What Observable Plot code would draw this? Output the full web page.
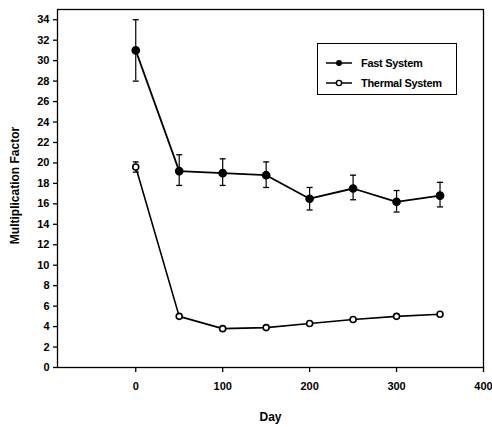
<!DOCTYPE html>
<html>
<head>
<meta charset="utf-8">
<script src="https://cdn.jsdelivr.net/npm/d3@7"></script>
<script src="https://cdn.jsdelivr.net/npm/@observablehq/plot@0.6"></script>
<style>
  html, body { margin: 0; padding: 0; background: #fff; }
  #wrap { position: relative; width: 492px; height: 427px; font-family: "Liberation Sans", Arial, sans-serif; }
  #legend { position: absolute; left: 317px; top: 43px; width: 140px; height: 52px; border: 1.3px solid #000; background: #fff; box-sizing: border-box; }
  .item { position: absolute; left: 7px; height: 14px; display: flex; align-items: center; font-size: 11px; font-weight: bold; letter-spacing: -0.3px; color: #000; }
  .item svg { margin-right: 8px; }
</style>
</head>
<body>
<div id="wrap"></div>
<script>
const days = [0, 50, 100, 150, 200, 250, 300, 350];
const fastValues = [31.0, 19.2, 19.0, 18.8, 16.5, 17.5, 16.2, 16.8];
const fastErrLow = [28.0, 17.8, 17.8, 17.6, 15.4, 16.4, 15.2, 15.7];
const fastErrHigh = [34.0, 20.8, 20.4, 20.1, 17.6, 18.8, 17.3, 18.1];
const thermalValues = [19.6, 5.0, 3.8, 3.9, 4.3, 4.7, 5.0, 5.2];
const thermalErrLow = [19.1, 5.0, 3.8, 3.9, 4.3, 4.7, 5.0, 5.2];
const thermalErrHigh = [20.1, 5.0, 3.8, 3.9, 4.3, 4.7, 5.0, 5.2];
const yTicks = [0, 2, 4, 6, 8, 10, 12, 14, 16, 18, 20, 22, 24, 26, 28, 30, 32, 34];
const xTicks = [0, 100, 200, 300, 400];
const seriesNames = ["Fast System", "Thermal System"];

const fast = days.map((d, i) => ({day: d, v: fastValues[i], lo: fastErrLow[i], hi: fastErrHigh[i]}));
const thermal = days.map((d, i) => ({day: d, v: thermalValues[i], lo: thermalErrLow[i], hi: thermalErrHigh[i]}));
const bars = fast.concat(thermal.filter(d => d.hi > d.lo));
const caps = bars.flatMap(d => [{day: d.day, y: d.lo}, {day: d.day, y: d.hi}]);

const capSymbol = {
  draw(context, size) {
    const r = Math.sqrt(size / Math.PI);
    context.moveTo(-r, 0);
    context.lineTo(r, 0);
  }
};

const chart = Plot.plot({
  width: 492,
  height: 427,
  marginLeft: 57,
  marginRight: 9,
  marginTop: 9,
  marginBottom: 60,
  style: {fontFamily: "Liberation Sans, Arial, sans-serif", fontWeight: "bold", fontSize: "11px", color: "#000", background: "#fff"},
  x: {domain: [-90, 400]},
  y: {domain: [0, 35]},
  marks: [
    Plot.frame({stroke: "#000", strokeWidth: 1.3}),
    Plot.axisY({ticks: yTicks, tickSize: 4, tickPadding: 4, label: null, strokeWidth: 1.3, style: {letterSpacing: "-0.6px"}}),
    Plot.axisX({ticks: xTicks, tickSize: 5, tickPadding: 10, label: null, strokeWidth: 1.3, style: {letterSpacing: "-0.6px"}}),
    Plot.ruleX(bars, {x: "day", y1: "lo", y2: "hi", stroke: "#000", strokeWidth: 1.2}),
    Plot.dot(caps, {x: "day", y: "y", r: 3, symbol: capSymbol, stroke: "#000", strokeWidth: 1.3}),
    Plot.line(fast, {x: "day", y: "v", stroke: "#000", strokeWidth: 1.8}),
    Plot.line(thermal, {x: "day", y: "v", stroke: "#000", strokeWidth: 1.6}),
    Plot.dot(fast, {x: "day", y: "v", r: 3.6, fill: "#000", stroke: "#000"}),
    Plot.dot(thermal, {x: "day", y: "v", r: 3, fill: "#fff", stroke: "#000", strokeWidth: 1.6}),
    Plot.text(["Multiplication Factor"], {frameAnchor: "left", textAnchor: "middle", dx: -42, dy: -3, rotate: -90, fontSize: 12, fontWeight: "bold", fill: "#000", style: {letterSpacing: "-0.6px"}}),
    Plot.text(["Day"], {frameAnchor: "bottom", textAnchor: "middle", dy: 53, fontSize: 12, fontWeight: "bold", fill: "#000", style: {letterSpacing: "-0.6px"}})
  ]
});

const wrap = document.getElementById("wrap");
wrap.appendChild(chart);

const legend = document.createElement("div");
legend.id = "legend";
const symbols = [
  '<svg width="28" height="10"><line x1="1" y1="5" x2="27" y2="5" stroke="#000" stroke-width="1.5"/><circle cx="14" cy="5" r="3" fill="#000"/></svg>',
  '<svg width="28" height="10"><line x1="1" y1="5" x2="27" y2="5" stroke="#000" stroke-width="1.5"/><circle cx="14" cy="5" r="2.6" fill="#fff" stroke="#000" stroke-width="1.4"/></svg>'
];
seriesNames.forEach((name, i) => {
  const item = document.createElement("div");
  item.className = "item";
  item.style.top = (i === 0 ? 12 : 32) + "px";
  item.innerHTML = symbols[i] + "<span>" + name + "</span>";
  legend.appendChild(item);
});
wrap.appendChild(legend);
</script>
</body>
</html>
